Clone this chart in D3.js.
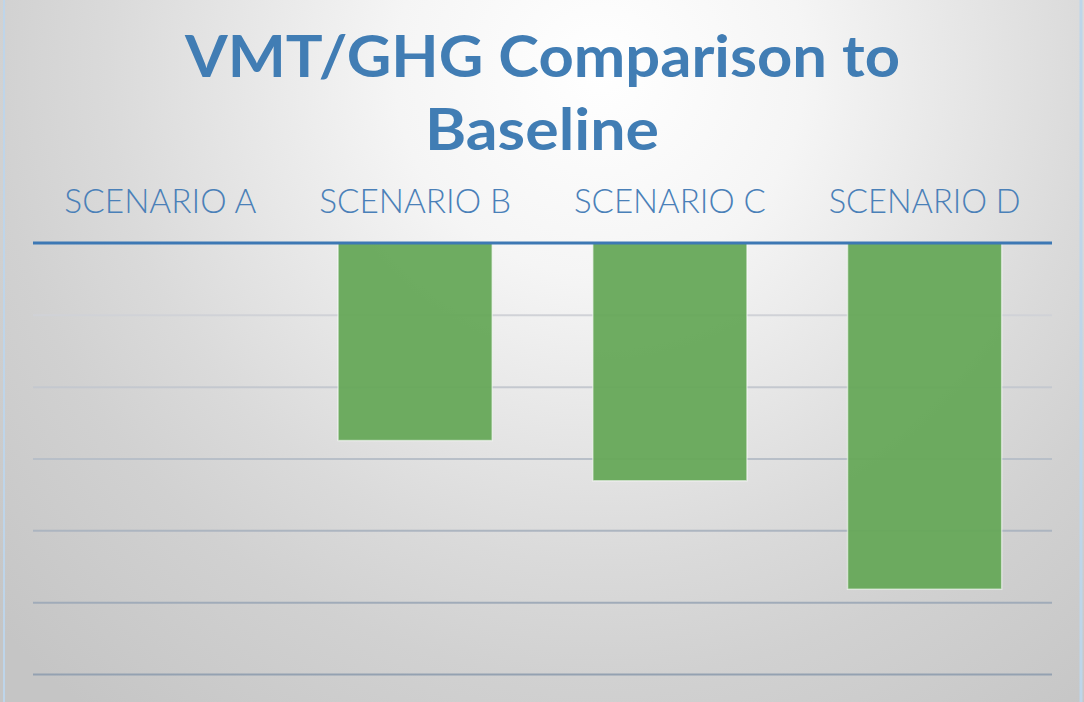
<!DOCTYPE html>
<html>
<head>
<meta charset="utf-8">
<script src="https://cdn.jsdelivr.net/npm/d3@7"></script>
<style>
  html, body { margin: 0; padding: 0; background: #ffffff; }
  svg { display: block; }
</style>
</head>
<body>
<svg id="chart" width="1084" height="702"></svg>
<script>
// ---- data ----
const titleLines = ["VMT/GHG Comparison to", "Baseline"];
const categories = ["SCENARIO A", "SCENARIO B", "SCENARIO C", "SCENARIO D"];
const values = [0, -2.75, -3.31, -4.82];
const gridTicks = [-1, -2, -3, -4, -5, -6];
const yDomain = [-6, 0];

// ---- layout ----
const W = 1084, H = 702;
const plot = { left: 33, right: 1052, top: 243, bottom: 674 };

const svg = d3.select("#chart");
const defs = svg.append("defs");

const bg = defs.append("radialGradient")
  .attr("id", "bg").attr("gradientUnits", "userSpaceOnUse")
  .attr("cx", 600).attr("cy", 70).attr("r", 820);
[[0, "#ffffff"], [0.25, "#f5f5f5"], [0.6, "#dadada"], [0.74, "#d1d1d1"], [1, "#c5c5c5"]]
  .forEach(([o, c]) => bg.append("stop").attr("offset", o).attr("stop-color", c));

svg.append("rect").attr("width", W).attr("height", H).attr("fill", "url(#bg)");
// side borders
svg.append("line").attr("x1", 4).attr("x2", 4).attr("y1", 0).attr("y2", H)
  .attr("stroke", "#bed5ea").attr("stroke-width", 2);
svg.append("line").attr("x1", 1081).attr("x2", 1081).attr("y1", 0).attr("y2", H)
  .attr("stroke", "#bed5ea").attr("stroke-width", 3);

const x = d3.scaleBand().domain(categories)
  .range([plot.left, plot.right]).paddingInner(0.395).paddingOuter(0.1975);
const y = d3.scaleLinear().domain(yDomain).range([plot.bottom, plot.top]);

// gridline colour darkens toward the bottom
const gridColor = d3.scaleLinear().domain([plot.top, plot.bottom])
  .range(["#dcdcde", "#94a1b1"]).interpolate(d3.interpolateRgb);

// gridlines via axis
const yAxis = d3.axisLeft(y).tickValues(gridTicks)
  .tickSize(-(plot.right - plot.left)).tickFormat("");
const gAxis = svg.append("g").attr("transform", `translate(${plot.left},0)`).call(yAxis);
gAxis.select(".domain").remove();
gAxis.selectAll(".tick line")
  .attr("stroke", d => gridColor(y(d)))
  .attr("stroke-width", 2);

// bars
svg.append("g").selectAll("rect").data(categories.map((c, i) => ({ c, v: values[i] })))
  .join("rect")
  .attr("x", d => x(d.c))
  .attr("width", x.bandwidth())
  .attr("y", d => y(0))
  .attr("height", d => y(d.v) - y(0))
  .attr("fill", "#66a858")
  .attr("fill-opacity", 0.95)
  .attr("stroke", d => d.v === 0 ? "none" : "rgba(255,255,255,0.55)")
  .attr("stroke-width", 1.5);

// zero axis line
svg.append("line")
  .attr("x1", plot.left).attr("x2", plot.right)
  .attr("y1", y(0)).attr("y2", y(0))
  .attr("stroke", "#3d78b4").attr("stroke-width", 3);

// category labels (top)
const xAxis = d3.axisTop(x).tickSize(0).tickPadding(0);
const gx = svg.append("g").attr("transform", `translate(0,213)`).call(xAxis);
gx.select(".domain").remove();
gx.selectAll(".tick text")
  .attr("y", 0).attr("dy", 0)
  .attr("font-family", "Lato, 'Open Sans', sans-serif")
  .attr("font-weight", 300)
  .attr("font-size", 33)
  .attr("fill", "#4a80b8")
  .attr("textLength", 192)
  .attr("lengthAdjust", "spacingAndGlyphs");

// title
const tw = [715, 234];
const tb = [77, 150];
svg.append("g").selectAll("text").data(titleLines).join("text")
  .attr("x", (d, i) => i === 0 ? 542.5 : 542)
  .attr("y", (d, i) => tb[i])
  .attr("text-anchor", "middle")
  .attr("font-family", "Lato, 'Open Sans', sans-serif")
  .attr("font-weight", 700)
  .attr("font-size", 58)
  .attr("fill", "#417db4")
  .attr("textLength", (d, i) => tw[i])
  .attr("lengthAdjust", "spacingAndGlyphs")
  .text(d => d);
</script>
</body>
</html>
